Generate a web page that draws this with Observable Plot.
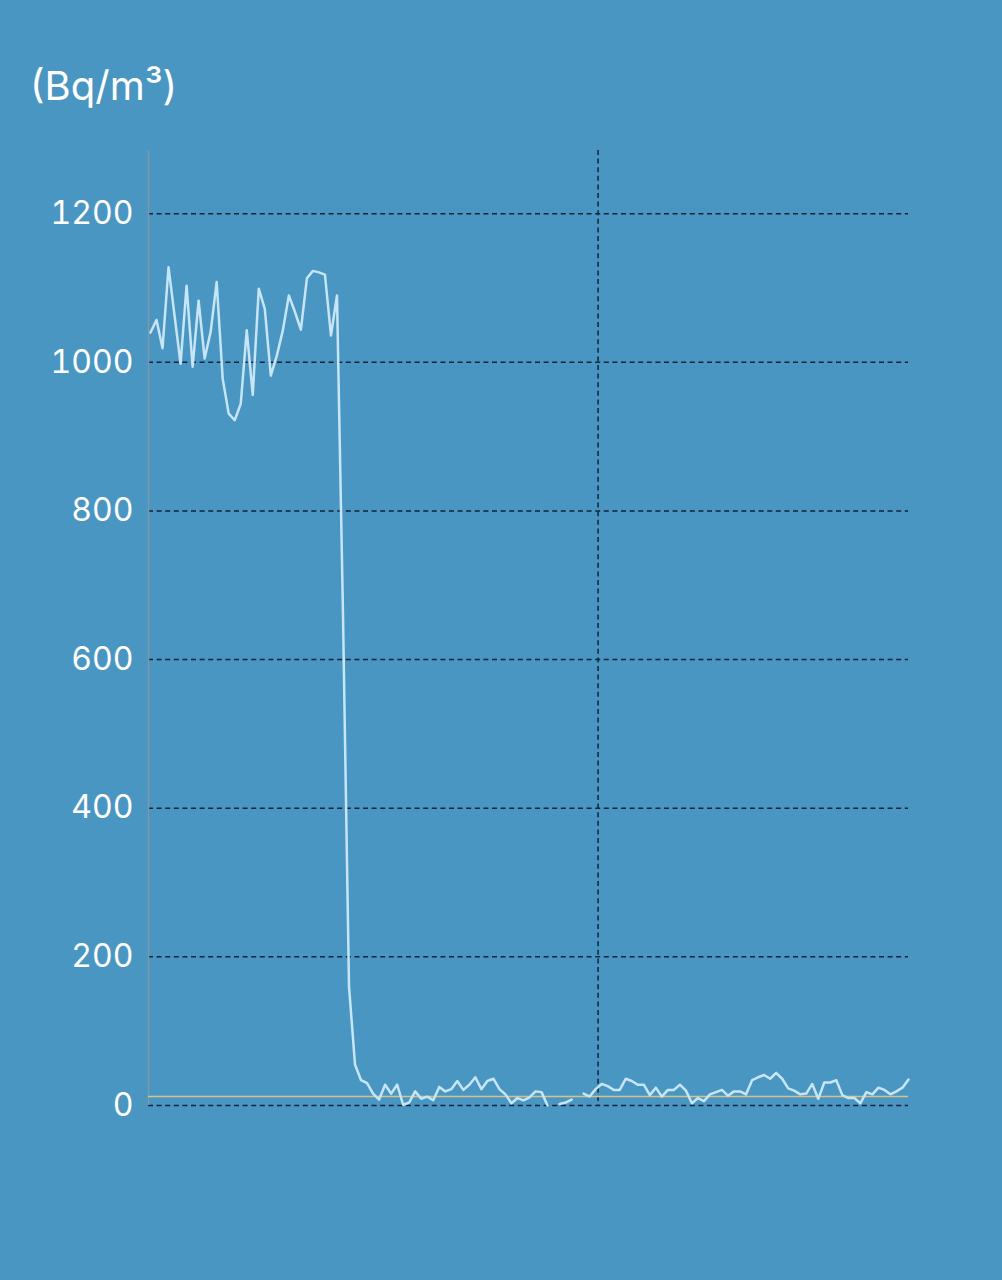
<!DOCTYPE html>
<html>
<head>
<meta charset="utf-8">
<script src="https://cdn.jsdelivr.net/npm/d3@7"></script>
<script src="https://cdn.jsdelivr.net/npm/@observablehq/plot@0.6"></script>
<style>
  html, body { margin: 0; padding: 0; background: #4a96c2; width: 1002px; height: 1280px; overflow: hidden; }
  #head { position: relative; height: 140px; }
  #title { position: absolute; left: 30px; top: 66px; font-family: Inter, "Noto Sans", sans-serif; font-size: 40px; line-height: 40px; color: #ffffff; }
  #chart { display: block; }
</style>
</head>
<body>
<div id="head"><div id="title">(Bq/m³)</div></div>
<div id="chart"></div>
<script>
// Radon concentration readings (Bq/m³), one per time step; null = missing
const radon = [
  1040, 1057, 1019, 1128, 1063, 998, 1103, 994, 1083, 1005,
  1041, 1108, 978, 931, 922, 944, 1043, 956, 1099, 1072,
  982, 1009, 1043, 1090, 1068, 1044, 1113, 1123, 1121, 1118,
  1036, 1090, 660, 160, 55, 34, 30, 16, 8, 28,
  16, 28, 1, 4, 19, 9, 12, 7, 25, 19,
  22, 33, 21, 28, 38, 22, 33, 36, 22, 15,
  3, 10, 7, 11, 19, 18, 0, null, 2, 4,
  8, null, 16, 12, 22, 29, 26, 21, 21, 36,
  33, 28, 28, 14, 24, 12, 21, 21, 28, 20,
  3, 10, 6, 15, 18, 21, 13, 19, 19, 15,
  34, 38, 41, 36, 44, 36, 23, 20, 15, 16,
  29, 9, 31, 31, 34, 14, 10, 10, 3, 18,
  15, 24, 21, 15, 19, 24, 35
];
const yTicks = [0, 200, 400, 600, 800, 1000, 1200];
const dayMarks = [74.4];      // time-step position of the day boundary
const threshold = [12];       // reference level line
const xDomain = [-0.33, 126];
const yDomain = [0, 1285];

const data = radon.map((v, i) => ({ i, v }));

const chart = Plot.plot({
  width: 1002,
  height: 1140,
  marginLeft: 148,
  marginRight: 94,
  marginTop: 10,
  marginBottom: 175,
  style: { background: "transparent", color: "#ffffff", fontFamily: "Inter, 'Noto Sans', sans-serif" },
  x: { domain: xDomain, axis: null },
  y: { domain: yDomain, ticks: yTicks, tickSize: 0, tickPadding: 15, label: null, tickFormat: d3.format("d") },
  marks: [
    Plot.ruleY(yTicks, { stroke: "#13233a", strokeWidth: 1.5, strokeDasharray: "5,3.6" }),
    Plot.ruleX(dayMarks, { stroke: "#13233a", strokeWidth: 1.5, strokeDasharray: "5,3.6" }),
    Plot.ruleX([xDomain[0]], { stroke: "#8197a8", strokeWidth: 1.5 }),
    Plot.ruleY(threshold, { stroke: "#d6c28e", strokeWidth: 1.5 }),
    Plot.line(data, { x: "i", y: "v", stroke: "#c6e5f5", strokeWidth: 2.5, strokeLinejoin: "round" }),
    Plot.axisY({ ticks: yTicks, tickSize: 0, tickPadding: 15, fontSize: 32, fill: "#ffffff", tickFormat: d3.format("d"), label: null })
  ]
});
document.getElementById("chart").appendChild(chart);
</script>
</body>
</html>
